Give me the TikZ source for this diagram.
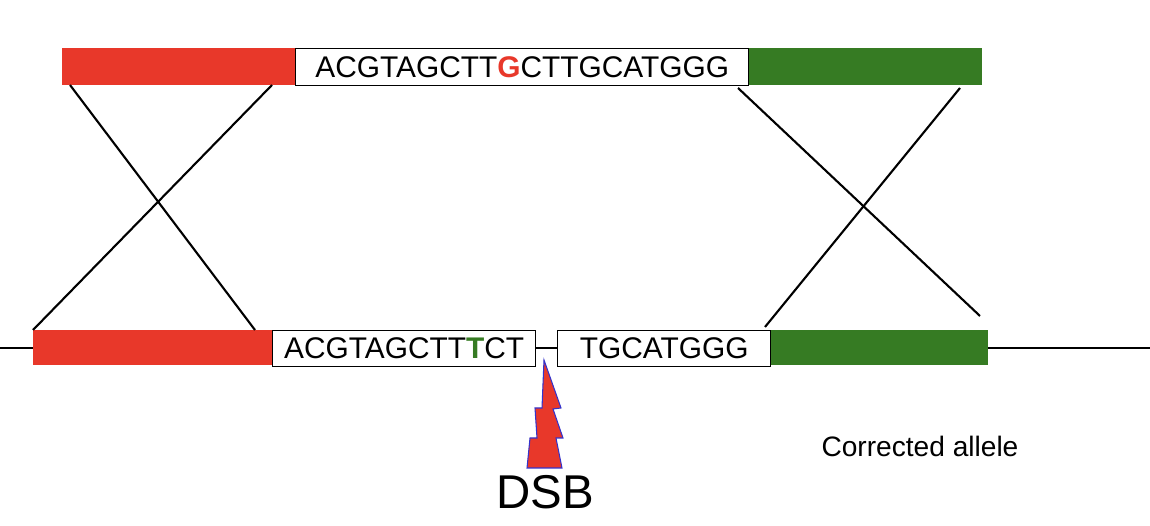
\documentclass[tikz,border=0pt]{standalone}
\usepackage{fontspec}
\setmainfont{Liberation Sans}
\definecolor{rd}{HTML}{E8382A}
\definecolor{gn}{HTML}{367B23}
\begin{document}
\begin{tikzpicture}[x=0.02cm,y=-0.02cm,
  seq/.style={draw,line width=0.8pt,fill=white,inner sep=0,anchor=north west,font=\fontsize{17}{20}\selectfont},
  ln/.style={line width=1.2pt}]
\useasboundingbox (0,0) rectangle (1150,526);
% top
\fill[rd] (62,48) rectangle (295,85);
\fill[gn] (748,48) rectangle (982,85);
\node[seq,minimum width=453*0.02cm,minimum height=37*0.02cm] (t) at (295,48) {ACGTAGCTT\textcolor{rd}{\textbf{G}}CTTGCATGGG};
% bottom
\draw[ln] (0,348) -- (1150,348);
\fill[rd] (33,330) rectangle (272,365);
\fill[gn] (770,330) rectangle (988,365);
\node[seq,minimum width=263*0.02cm,minimum height=36*0.02cm] (b1) at (272,330) {ACGTAGCTT\textcolor{gn}{\textbf{T}}CT};
\node[seq,minimum width=213*0.02cm,minimum height=36*0.02cm] (b2) at (557,330) {TGCATGGG};
% crossing lines
\coordinate (a1) at (70,85); \coordinate (a2) at (255,330);
\coordinate (c1) at (272,85); \coordinate (c2) at (33,330);
\coordinate (d1) at (738,88); \coordinate (d2) at (980,316);
\coordinate (e1) at (960,88); \coordinate (e2) at (765,327);
\draw[ln] (a1) -- (a2); \draw[ln] (c1) -- (c2);
\draw[ln] (d1) -- (d2); \draw[ln] (e1) -- (e2);
% bolt
\draw[fill=rd,draw=blue!60!gray,line width=0.6pt] (544,360) -- (561,408) -- (553,409) -- (563,438) -- (556,438) -- (562,468) -- (527,468) -- (530,438) -- (537,438) -- (535,408) -- (542,408) -- cycle;
\node[font=\fontsize{27}{30}\selectfont] (dsb) at (545,492) {DSB};
\node[font=\fontsize{16}{19}\selectfont] (ca) at (920,446) {Corrected allele};
\end{tikzpicture}
\end{document}
